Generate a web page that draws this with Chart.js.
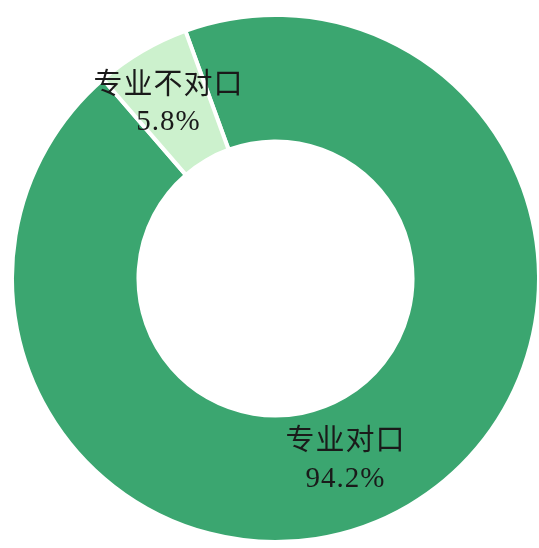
<!DOCTYPE html>
<html>
<head>
<meta charset="utf-8">
<script src="https://cdn.jsdelivr.net/npm/chart.js@4.4.1/dist/chart.umd.min.js"></script>
<style>
  html, body { margin: 0; padding: 0; background: #fff; }
  body { width: 539px; height: 548px; position: relative; overflow: hidden; }
  #wrap { position: absolute; left: 10px; top: 13px; width: 531px; height: 531px; }
</style>
</head>
<body>
<div id="wrap"><canvas id="chart"></canvas></div>
<script>
// data
const categories = ["专业对口", "专业不对口"];
const shares = [94.2, 5.8];
const valueLabels = ["94.2%", "5.8%"];

const colors = ["#3ba670", "#ccf1cd"];
// nudge each label away from the slice centre, in px
const labelShift = [[-32, 8], [-6, -3]];

// draws "name / value" inside each slice
const sliceLabels = {
  id: "sliceLabels",
  afterDatasetsDraw(chart) {
    const ctx = chart.ctx;
    const arcs = chart.getDatasetMeta(0).data;
    ctx.save();
    ctx.fillStyle = "#1a1a1a";
    ctx.textAlign = "center";
    ctx.textBaseline = "middle";
    arcs.forEach((arc, i) => {
      const p = arc.tooltipPosition();
      const x = p.x + labelShift[i][0];
      const y = p.y + labelShift[i][1];
      ctx.font = '29px "Noto Sans CJK SC"';
      ctx.letterSpacing = "1px";
      ctx.fillText(categories[i], x + 0.5, y - 20);
      ctx.font = '29px "Liberation Serif"';
      ctx.letterSpacing = "1px";
      ctx.fillText(valueLabels[i], x + 0.5, y + 20);
    });
    ctx.restore();
  }
};

new Chart(document.getElementById("chart"), {
  type: "doughnut",
  data: {
    labels: categories,
    datasets: [{
      data: shares,
      backgroundColor: colors,
      borderColor: "#ffffff",
      borderWidth: 4,
      hoverOffset: 0
    }]
  },
  options: {
    responsive: true,
    maintainAspectRatio: false,
    animation: false,
    events: [],
    rotation: -20,
    cutout: "52%",
    layout: { padding: 0 },
    plugins: {
      legend: { display: false },
      tooltip: { enabled: false }
    }
  },
  plugins: [sliceLabels]
});
</script>
</body>
</html>
